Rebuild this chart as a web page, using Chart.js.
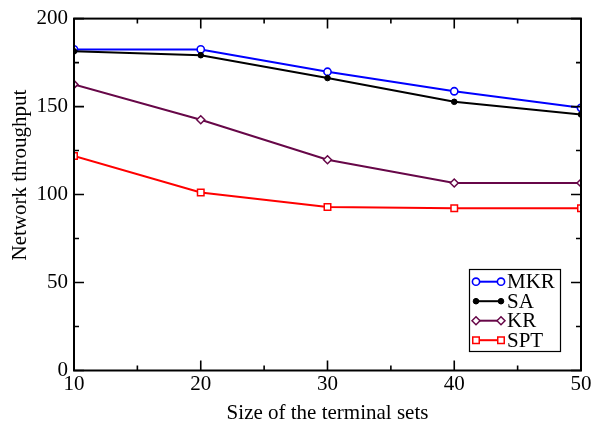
<!DOCTYPE html>
<html>
<head>
<meta charset="utf-8">
<script src="https://cdn.jsdelivr.net/npm/chart.js@4.4.0/dist/chart.umd.min.js"></script>
<style>
html,body{margin:0;padding:0;background:#fff;}
canvas{display:block;}
</style>
</head>
<body>
<canvas id="c" width="593" height="431"></canvas>
<script>
const categories = [10, 20, 30, 40, 50];
const seriesNames = ['MKR', 'SA', 'KR', 'SPT'];
const mkr = [182.5, 182.5, 169.8, 158.7, 149.3];
const sa  = [181.4, 179.2, 166.2, 152.7, 145.5];
const kr  = [162.6, 142.5, 119.8, 106.6, 106.6];
const spt = [121.9, 101.2, 92.9, 92.2, 92.2];
const yTicks = [0, 50, 100, 150, 200];
const yMinor = [25, 75, 125, 175];
const xTicks = [10, 20, 30, 40, 50];
const xMinor = [15, 25, 35, 45];
const xTitle = 'Size of the terminal sets';
const yTitle = 'Network throughput';

const FONT = 'Liberation Serif, Times New Roman, serif';
const pts = arr => categories.map((x, i) => ({x: x, y: arr[i]}));

const styles = [
  {color: '#0000ff', pointStyle: 'circle', radius: 3.6, bg: '#ffffff', bw: 1.6},
  {color: '#000000', pointStyle: 'circle', radius: 2.8, bg: '#000000', bw: 1},
  {color: '#670748', pointStyle: 'rectRot', radius: 4, bg: '#ffffff', bw: 1.5},
  {color: '#ff0000', pointStyle: 'rect', radius: 4.6, bg: '#ffffff', bw: 1.5}
];
const values = [mkr, sa, kr, spt];

const datasets = values.map((v, i) => ({
  label: seriesNames[i],
  data: pts(v),
  borderColor: styles[i].color,
  backgroundColor: styles[i].bg,
  pointBackgroundColor: styles[i].bg,
  pointBorderColor: styles[i].color,
  pointBorderWidth: styles[i].bw,
  pointStyle: styles[i].pointStyle,
  pointRadius: styles[i].radius,
  borderWidth: 2,
  tension: 0,
  fill: false
})).reverse();

const framePlugin = {
  id: 'frame',
  afterDraw(chart) {
    const ctx = chart.ctx;
    const a = chart.chartArea;
    const xs = chart.scales.x, ys = chart.scales.y;
    ctx.save();
    ctx.strokeStyle = '#000';
    ctx.lineWidth = 1.6;
    ctx.beginPath();
    const tick = (vals, len) => {
      vals.forEach(v => {
        const py = ys.getPixelForValue(v);
        ctx.moveTo(a.left, py); ctx.lineTo(a.left + len, py);
        ctx.moveTo(a.right, py); ctx.lineTo(a.right - len, py);
      });
    };
    tick(yTicks, 10); tick(yMinor, 5);
    const tickX = (vals, len) => {
      vals.forEach(v => {
        const px = xs.getPixelForValue(v);
        ctx.moveTo(px, a.bottom); ctx.lineTo(px, a.bottom - len);
        ctx.moveTo(px, a.top); ctx.lineTo(px, a.top + len);
      });
    };
    tickX(xTicks, 10); tickX(xMinor, 5);
    ctx.stroke();
    ctx.lineWidth = 2;
    ctx.strokeRect(a.left, a.top, a.right - a.left, a.bottom - a.top);

    // y title
    ctx.fillStyle = '#000';
    ctx.font = '21px ' + FONT;
    ctx.textAlign = 'center';
    ctx.textBaseline = 'middle';
    ctx.translate(20, 175);
    ctx.rotate(-Math.PI / 2);
    ctx.fillText(yTitle, 0, 0);
    ctx.restore();

    // legend
    ctx.save();
    const lx = 469.5, ly = 269.5, lw = 91, lh = 82;
    ctx.fillStyle = '#fff';
    ctx.fillRect(lx, ly, lw, lh);
    ctx.strokeStyle = '#000';
    ctx.lineWidth = 1.2;
    ctx.strokeRect(lx, ly, lw, lh);
    const rows = [281.7, 301.2, 320.7, 340.2];
    seriesNames.forEach((name, i) => {
      const st = styles[i];
      const y = rows[i];
      ctx.strokeStyle = st.color;
      ctx.lineWidth = 2;
      ctx.beginPath();
      ctx.moveTo(476, y); ctx.lineTo(501, y);
      ctx.stroke();
      [476, 501].forEach(px => {
        ctx.save();
        ctx.lineWidth = st.bw;
        ctx.fillStyle = st.bg;
        ctx.strokeStyle = st.color;
        Chart.helpers.drawPoint(ctx, {pointStyle: st.pointStyle, radius: st.radius, rotation: 0, borderWidth: st.bw}, px, y);
        ctx.restore();
      });
      ctx.fillStyle = '#000';
      ctx.font = '21px ' + FONT;
      ctx.textAlign = 'left';
      ctx.textBaseline = 'middle';
      ctx.fillText(name, 507, y + 1);
    });
    ctx.restore();
  }
};

new Chart(document.getElementById('c'), {
  type: 'line',
  data: {datasets: datasets},
  options: {
    responsive: false,
    animation: false,
    devicePixelRatio: 1,
    layout: {padding: {left: 0, right: 12, top: 15.7, bottom: 0}},
    plugins: {legend: {display: false}, tooltip: {enabled: false}},
    scales: {
      x: {
        type: 'linear', min: 10, max: 50,
        grid: {display: false, drawTicks: false},
        border: {display: false},
        afterBuildTicks: s => { s.ticks = xTicks.map(v => ({value: v})); },
        afterFit: s => { s.height = 431 - 370.5; },
        ticks: {padding: 1, color: '#000', font: {family: FONT, size: 21}, maxRotation: 0, autoSkip: false},
        title: {display: true, text: xTitle, color: '#000', font: {family: FONT, size: 21}, padding: {top: 0, bottom: 5}}
      },
      y: {
        type: 'linear', min: 0, max: 200,
        grid: {display: false, drawTicks: false},
        border: {display: false},
        afterBuildTicks: s => { s.ticks = yTicks.map(v => ({value: v})); },
        afterFit: s => { s.width = 74; },
        ticks: {padding: 6, color: '#000', font: {family: FONT, size: 21}}
      }
    }
  },
  plugins: [framePlugin]
});
</script>
</body>
</html>
